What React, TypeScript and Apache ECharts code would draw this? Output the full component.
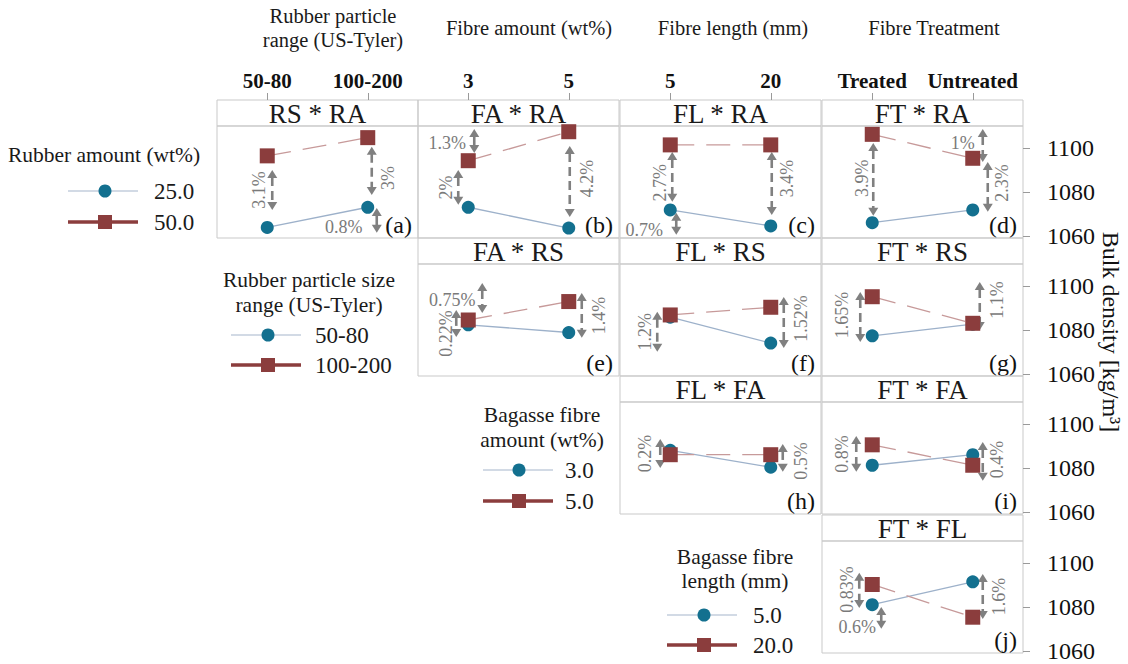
import { useEffect, useRef } from 'react';
import * as echarts from 'echarts';

// ---------- data ----------
const COLUMN_LEVELS = [
  ['50-80', '100-200'],
  ['3', '5'],
  ['5', '20'],
  ['Treated', 'Untreated'],
];
const COLUMN_TITLES = [
  ['Rubber particle', 'range (US-Tyler)'],
  ['Fibre amount (wt%)'],
  ['Fibre length (mm)'],
  ['Fibre Treatment'],
];
const PANEL_TITLES = ['RS * RA', 'FA * RA', 'FL * RA', 'FT * RA', 'FA * RS', 'FL * RS', 'FT * RS', 'FL * FA', 'FT * FA', 'FT * FL'];
const PANEL_LETTERS = ['(a)', '(b)', '(c)', '(d)', '(e)', '(f)', '(g)', '(h)', '(i)', '(j)'];
const PANEL_COL = [0, 1, 2, 3, 1, 2, 3, 2, 3, 3];
const PANEL_ROW = [0, 0, 0, 0, 1, 1, 1, 2, 2, 3];

// low level of the row factor (circles) and high level (squares)
const CIRCLE_VALUES = [
  [1063.8, 1073.0],
  [1073.0, 1063.5],
  [1071.8, 1064.5],
  [1066.0, 1071.8],
  [1082.3, 1078.8],
  [1085.8, 1074.0],
  [1077.3, 1082.6],
  [1088.0, 1080.3],
  [1081.2, 1086.0],
  [1081.0, 1091.4],
];
const SQUARE_VALUES = [
  [1096.4, 1104.7],
  [1094.2, 1107.4],
  [1101.4, 1101.4],
  [1106.2, 1095.3],
  [1084.5, 1092.9],
  [1086.8, 1090.3],
  [1095.1, 1083.0],
  [1086.0, 1086.0],
  [1090.5, 1081.2],
  [1090.2, 1075.3],
];

// gap arrows: [panel, level, top value, bottom value, label]
const GAPS: [number, number, number, number, string][] = [
  [0, 0, 1090.0, 1071.8, '3.1%'],
  [0, 1, 1100.5, 1078.6, '3%'],
  [0, 1, 1072.7, 1061.4, '0.8%'],
  [1, 0, 1108.6, 1097.7, '1.3%'],
  [1, 0, 1090.0, 1074.1, '2%'],
  [1, 1, 1100.9, 1068.6, '4.2%'],
  [2, 0, 1098.2, 1075.5, '2.7%'],
  [2, 0, 1070.5, 1060.5, '0.7%'],
  [2, 1, 1098.2, 1069.5, '3.4%'],
  [3, 0, 1102.3, 1069.1, '3.9%'],
  [3, 1, 1108.6, 1093.6, '1%'],
  [3, 1, 1093.6, 1070.9, '2.3%'],
  [4, 0, 1101.4, 1087.7, '0.75%'],
  [4, 0, 1089.1, 1076.8, '0.22%'],
  [4, 1, 1096.8, 1076.4, '1.4%'],
  [5, 0, 1088.2, 1070.0, '1.2%'],
  [5, 1, 1095.0, 1071.8, '1.52%'],
  [6, 0, 1097.3, 1074.5, '1.65%'],
  [6, 1, 1101.8, 1080.0, '1.1%'],
  [7, 0, 1093.2, 1080.0, '0.2%'],
  [7, 1, 1090.9, 1078.2, '0.5%'],
  [8, 0, 1094.5, 1078.2, '0.8%'],
  [8, 1, 1091.8, 1074.1, '0.4%'],
  [9, 0, 1095.5, 1079.5, '0.83%'],
  [9, 0, 1080.0, 1070.0, '0.6%'],
  [9, 1, 1095.0, 1074.5, '1.6%'],
];

const Y_TICKS = [1060, 1080, 1100];
const LEGEND_TITLES = [
  ['Rubber amount (wt%)'],
  ['Rubber particle size', 'range (US-Tyler)'],
  ['Bagasse fibre', 'amount (wt%)'],
  ['Bagasse fibre', 'length (mm)'],
];
const LEGEND_LABELS = [
  ['25.0', '50.0'],
  ['50-80', '100-200'],
  ['3.0', '5.0'],
  ['5.0', '20.0'],
];

// ---------- layout / style ----------
const FONT = "'Liberation Serif', 'Times New Roman', serif";
const COL_LEFT = [217, 418, 620, 822];
const COL_W = 201;
const ROW_TOP = [100, 238, 376, 515];
const BAND_H = 26;
const PLOT_H = 112;
const Y_MIN = 1059;
const Y_MAX = 1110;
const BORDER = '#c9c9c9';
const C_CIRCLE = '#13708f';
const C_CIRCLE_LINE = '#9db1ca';
const C_SQUARE = '#8b3d3d';
const C_SQUARE_LINE = '#c79a9a';
const ARROW = '#808080';
const LABEL_GREY = '#7a7a7a';

// per-gap layout: [arrow dx, label dx, label dy, rotated, dashed]
const GAP_LAYOUT: [number, number, number, number, number][] = [
  [5, -8, 0, 1, 1],
  [4, 20, 7, 1, 1],
  [9, -24, 7, 0, 0],
  [6, -21, 2, 0, 1],
  [-10, -22, 0, 1, 1],
  [1, 18, -3, 1, 1],
  [2, -10, 6, 1, 1],
  [6, -26, 6, 0, 0],
  [1, 16, -5, 1, 1],
  [1, -10, -1, 1, 1],
  [10, -10, -3, 0, 1],
  [15, 29, -4, 1, 1],
  [14, -16, 2, 0, 1],
  [-12, -22, 10, 1, 1],
  [13, 30, 0, 1, 1],
  [-13, -25, 0, 1, 1],
  [13, 30, -4, 1, 1],
  [-12, -30, -2, 1, 1],
  [7, 24, -6, 1, 1],
  [-10, -25, 0, 1, 1],
  [12, 30, 3, 1, 1],
  [-16, -30, 0, 1, 1],
  [10, 24, -2, 1, 1],
  [-13, -25, -1, 1, 1],
  [9, -15, 9, 0, 0],
  [10, 26, 0, 1, 1],
];

const HEADING_POS = [
  { x: 333, y: [16, 40] },
  { x: 529, y: [28] },
  { x: 733, y: [28] },
  { x: 934, y: [28] },
];

const LEGEND_POS = [
  { tx: 104, ty: [155], rows: [191, 222], l0: 68, l1: 138, mx: 105, vx: 154 },
  { tx: 309, ty: [280, 305], rows: [335, 365], l0: 231, l1: 301, mx: 268, vx: 315 },
  { tx: 542, ty: [415, 440], rows: [470, 501], l0: 483, l1: 553, mx: 519, vx: 565 },
  { tx: 735, ty: [557, 581], rows: [615, 645], l0: 667, l1: 737, mx: 704, vx: 753 },
];

function txt(text: string, x: number, y: number, size: number, fill: string, align = 'center', vAlign = 'middle', rotation = 0, weight = 'normal') {
  return {
    type: 'text',
    x,
    y,
    rotation,
    silent: true,
    style: {
      text,
      fontSize: size,
      fontFamily: FONT,
      fontWeight: weight,
      fill,
      align,
      verticalAlign: vAlign,
      textAlign: align,
      textVerticalAlign: vAlign,
    },
  };
}

function buildOption() {
  const grid: any[] = [];
  const xAxis: any[] = [];
  const yAxis: any[] = [];
  const series: any[] = [];
  const elements: any[] = [];

  PANEL_TITLES.forEach((title, p) => {
    const col = PANEL_COL[p];
    const row = PANEL_ROW[p];
    const left = COL_LEFT[col];
    const bandTop = ROW_TOP[row];
    const top = bandTop + BAND_H;

    grid.push({ left, top, width: COL_W, height: PLOT_H, show: true, borderColor: BORDER, borderWidth: 1 });

    const xa: any = { type: 'category', gridIndex: p, data: COLUMN_LEVELS[col], boundaryGap: true };
    if (row === 0) {
      Object.assign(xa, {
        position: 'top',
        offset: BAND_H,
        axisLine: { show: false },
        axisTick: { show: true, alignWithLabel: true, interval: 0, length: 7, lineStyle: { color: '#9a9a9a', width: 1 } },
        axisLabel: { show: true, interval: 0, hideOverlap: false, margin: 9, fontSize: 21, fontWeight: 'bold', fontFamily: FONT, color: '#111' },
        splitLine: { show: false },
      });
    } else {
      xa.show = false;
    }
    xAxis.push(xa);

    const ya: any = { type: 'value', gridIndex: p, min: Y_MIN, max: Y_MAX, splitLine: { show: false } };
    if (col === 3) {
      Object.assign(ya, {
        position: 'right',
        axisLine: { show: false },
        axisTick: { show: true, length: 7, customValues: Y_TICKS, lineStyle: { color: '#9a9a9a', width: 1 } },
        axisLabel: {
          show: true,
          customValues: Y_TICKS,
          margin: 24,
          fontSize: 24,
          fontFamily: FONT,
          color: '#111',
          formatter: (v: number) => String(Math.round(v)),
        },
      });
    } else {
      ya.show = false;
    }
    yAxis.push(ya);

    const gapData = GAPS.map((g, gi) => ({ g, gi }))
      .filter((o) => o.g[0] === p)
      .map((o) => [o.g[1], o.g[2], o.g[3], o.gi]);

    series.push({
      type: 'custom',
      xAxisIndex: p,
      yAxisIndex: p,
      z: 2,
      silent: true,
      clip: false,
      data: gapData,
      renderItem: (_params: any, api: any) => {
        const gi = api.value(3);
        const lay = GAP_LAYOUT[gi];
        const label = GAPS[gi][4];
        const pt = api.coord([api.value(0), api.value(1)]);
        const pb = api.coord([api.value(0), api.value(2)]);
        const x = pt[0] + lay[0];
        const y1 = pt[1];
        const y2 = pb[1];
        const hl = 8;
        const hw = 5;
        const children: any[] = [
          {
            type: 'line',
            shape: { x1: x, y1: y1 + hl - 1, x2: x, y2: y2 - hl + 1 },
            style: { stroke: ARROW, lineWidth: 2.6, lineDash: lay[4] ? [9, 5] : null },
          },
          { type: 'polygon', shape: { points: [[x, y1], [x - hw, y1 + hl], [x + hw, y1 + hl]] }, style: { fill: ARROW } },
          { type: 'polygon', shape: { points: [[x, y2], [x - hw, y2 - hl], [x + hw, y2 - hl]] }, style: { fill: ARROW } },
          {
            type: 'text',
            x: pt[0] + lay[1],
            y: (y1 + y2) / 2 + lay[2],
            rotation: lay[3] ? Math.PI / 2 : 0,
            style: {
              text: label,
              fontSize: 18,
              fontFamily: FONT,
              fill: LABEL_GREY,
              align: 'center',
              verticalAlign: 'middle',
              textAlign: 'center',
              textVerticalAlign: 'middle',
            },
          },
        ];
        return { type: 'group', children };
      },
    });

    series.push({
      type: 'line',
      xAxisIndex: p,
      yAxisIndex: p,
      z: 3,
      data: CIRCLE_VALUES[p],
      symbol: 'circle',
      symbolSize: 13,
      itemStyle: { color: C_CIRCLE },
      lineStyle: { color: C_CIRCLE_LINE, width: 1.3 },
      silent: true,
    });
    series.push({
      type: 'line',
      xAxisIndex: p,
      yAxisIndex: p,
      z: 4,
      data: SQUARE_VALUES[p],
      symbol: 'rect',
      symbolSize: 15,
      itemStyle: { color: C_SQUARE },
      lineStyle: { color: C_SQUARE_LINE, width: 1.3, type: [24, 12] },
      silent: true,
    });

    elements.push({
      type: 'rect',
      shape: { x: left, y: bandTop, width: COL_W, height: BAND_H },
      style: { fill: 'none', stroke: BORDER, lineWidth: 1 },
      silent: true,
    });
    elements.push(txt(title, left + COL_W / 2, bandTop + BAND_H / 2 + 1, 27, '#1a1a1a'));
    elements.push(txt(PANEL_LETTERS[p], left + COL_W - 6, top + PLOT_H - 13, 24, '#111', 'right'));
  });

  COLUMN_TITLES.forEach((lines, c) => {
    lines.forEach((line, k) => {
      elements.push(txt(line, HEADING_POS[c].x, HEADING_POS[c].y[k], 20.5, '#1a1a1a'));
    });
  });

  LEGEND_TITLES.forEach((lines, li) => {
    const pos = LEGEND_POS[li];
    lines.forEach((line, k) => {
      elements.push(txt(line, pos.tx, pos.ty[k], 21.5, '#1a1a1a'));
    });
    LEGEND_LABELS[li].forEach((lab, k) => {
      const y = pos.rows[k];
      if (k === 0) {
        elements.push({ type: 'line', silent: true, shape: { x1: pos.l0, y1: y, x2: pos.l1, y2: y }, style: { stroke: '#c3cedc', lineWidth: 1.5 } });
        elements.push({ type: 'circle', silent: true, shape: { cx: pos.mx, cy: y, r: 6.5 }, style: { fill: C_CIRCLE } });
      } else {
        elements.push({ type: 'line', silent: true, shape: { x1: pos.l0, y1: y, x2: pos.l1, y2: y }, style: { stroke: C_SQUARE, lineWidth: 3.5 } });
        elements.push({ type: 'rect', silent: true, shape: { x: pos.mx - 7, y: y - 7, width: 14, height: 14 }, style: { fill: C_SQUARE } });
      }
      elements.push(txt(lab, pos.vx, y, 23, '#1a1a1a', 'left'));
    });
  });

  elements.push(txt('Bulk density [kg/m³]', 1111, 332, 24, '#111', 'center', 'middle', -Math.PI / 2));

  return {
    animation: false,
    backgroundColor: '#ffffff',
    textStyle: { fontFamily: FONT },
    grid,
    xAxis,
    yAxis,
    series,
    graphic: { elements },
  };
}

export default function App() {
  const ref = useRef<HTMLDivElement>(null);
  useEffect(() => {
    const chart = echarts.init(ref.current as HTMLDivElement, undefined, { renderer: 'svg' });
    chart.setOption(buildOption() as any);
    return () => chart.dispose();
  }, []);
  return (
    <div
      ref={ref}
      style={{ position: 'absolute', left: 0, top: 0, width: 1128, height: 664, background: '#fff' }}
    />
  );
}
